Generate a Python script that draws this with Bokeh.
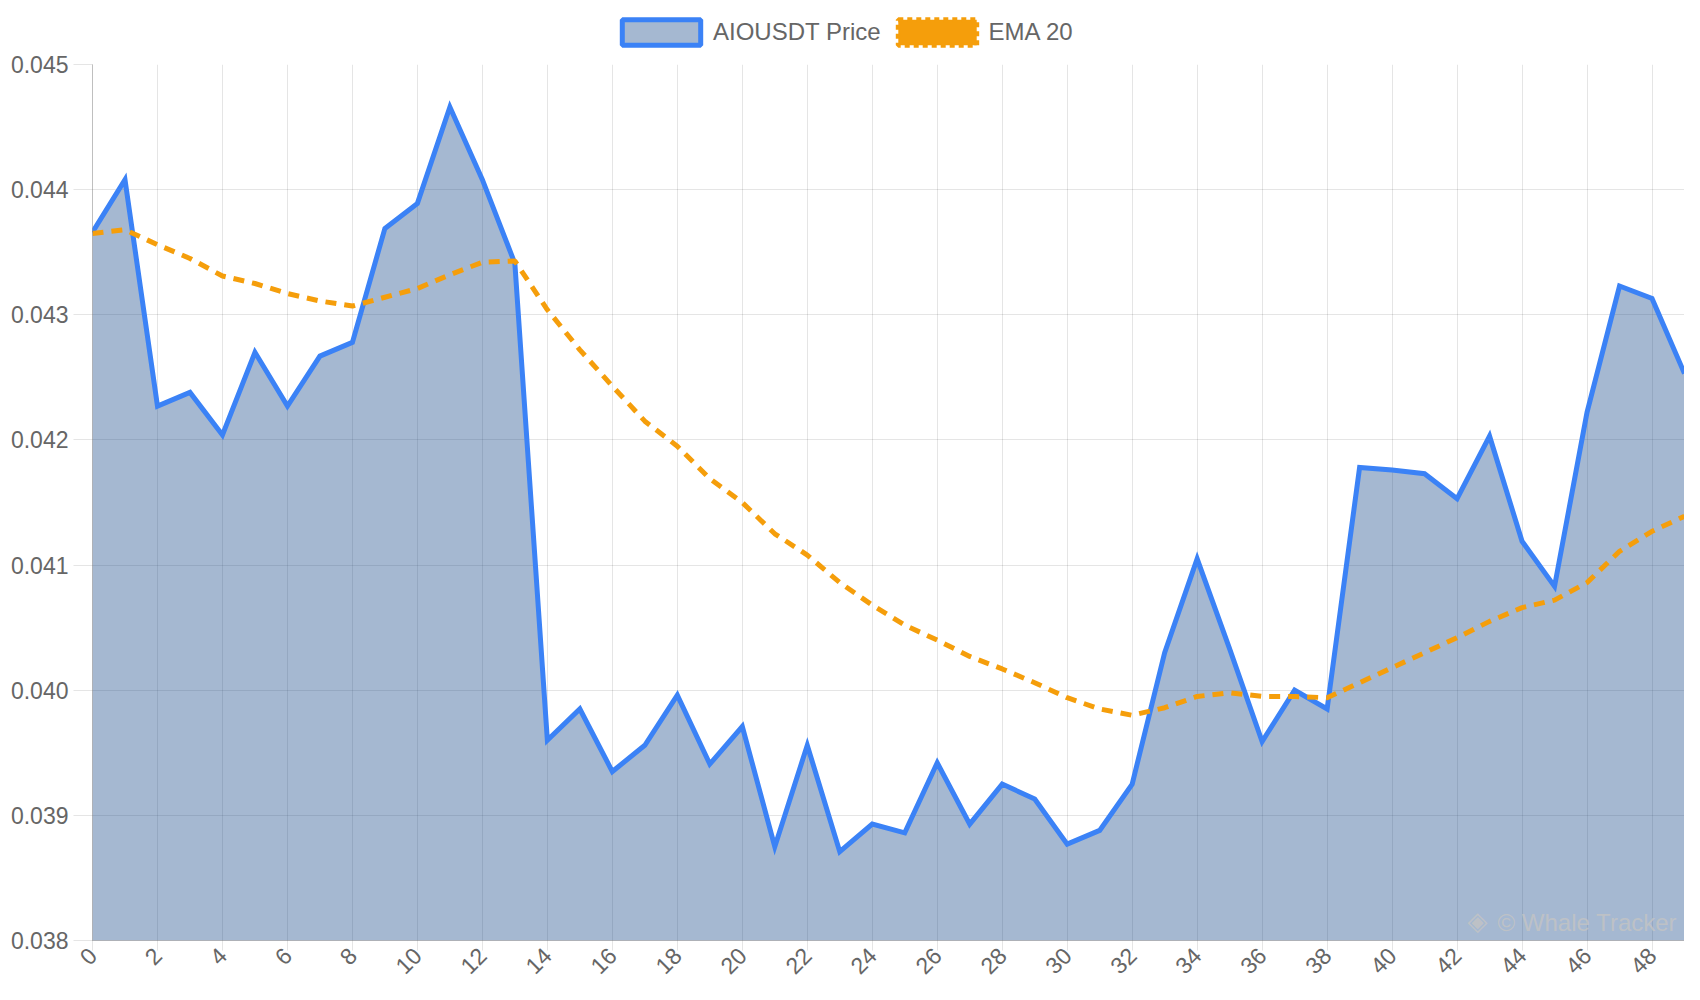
from math import pi

from bokeh.plotting import figure
from bokeh.layouts import column
from bokeh.models import FixedTicker, NumeralTickFormatter, Legend, LegendItem, Label
from bokeh.embed import file_html
from bokeh.resources import INLINE

# values
idx = list(range(50))
price = [0.04366, 0.04408, 0.04227, 0.04238, 0.04204, 0.04270, 0.04227, 0.04267, 0.04278, 0.04369,
         0.04389, 0.04466, 0.04408, 0.04341, 0.03960, 0.03985, 0.03935, 0.03956, 0.03996, 0.03941,
         0.03971, 0.03875, 0.03956, 0.03871, 0.03893, 0.03886, 0.03942, 0.03893, 0.03925, 0.03913,
         0.03877, 0.03888, 0.03925, 0.04030, 0.04105, 0.04033, 0.03959, 0.04000, 0.03985, 0.04178,
         0.04176, 0.04173, 0.04153, 0.04203, 0.04119, 0.04083, 0.04222, 0.04323, 0.04313, 0.04253]
ema20 = [0.04365, 0.04368, 0.04356, 0.04345, 0.04331, 0.04325, 0.04317, 0.04311, 0.04307, 0.04314,
         0.04321, 0.04332, 0.04342, 0.04343, 0.04304, 0.04272, 0.04243, 0.04215, 0.04195, 0.04169,
         0.04150, 0.04125, 0.04108, 0.04086, 0.04068, 0.04052, 0.04040, 0.04027, 0.04017, 0.04006,
         0.03994, 0.03985, 0.03980, 0.03986, 0.03995, 0.03998, 0.03995, 0.03995, 0.03994, 0.04006,
         0.04018, 0.04030, 0.04042, 0.04055, 0.04066, 0.04072, 0.04086, 0.04111, 0.04127, 0.04139]
x_ticks = list(range(0, 49, 2))
y_ticks = [0.038, 0.039, 0.040, 0.041, 0.042, 0.043, 0.044, 0.045]

BLUE = "#3b82f6"
FILL = "#1f4e8c"
ORANGE = "#f59e0b"
GREY = "#666666"
FONT = "Liberation Sans"
NAN = float("nan")

# strip on top that only holds the legend
top = figure(width=1684, height=51, min_border=0, x_axis_type=None, y_axis_type=None,
             output_backend="svg", toolbar_location=None)
top.outline_line_color = None
top.grid.visible = False

# legend proxies (nan -> nothing drawn in the strip itself)
leg_price = top.quad(left=[NAN], right=[NAN], top=[NAN], bottom=[NAN], fill_color=FILL,
                     fill_alpha=0.4, line_color=BLUE, line_width=5)
leg_ema = top.quad(left=[NAN], right=[NAN], top=[NAN], bottom=[NAN], fill_color=ORANGE,
                   line_color=ORANGE, line_width=5, line_dash="5 4")
legend = Legend(items=[LegendItem(label="AIOUSDT Price", renderers=[leg_price]),
                       LegendItem(label="EMA 20", renderers=[leg_ema])],
                orientation="horizontal", location=(520, 3),
                glyph_width=98, glyph_height=32, label_standoff=3, spacing=7,
                padding=0, margin=0, border_line_color=None, background_fill_alpha=0,
                label_text_font=FONT, label_text_font_size="24px", label_text_color=GREY)
top.add_layout(legend, "center")

# main chart
p = figure(width=1684, height=933,
           min_border_left=92, min_border_top=13, min_border_right=0, min_border_bottom=0,
           x_range=(0, 49), y_range=(y_ticks[0], y_ticks[-1]),
           output_backend="svg", toolbar_location=None)
p.outline_line_color = None

# price area + line
p.varea(x=idx, y1=y_ticks[0], y2=price, fill_color=FILL, fill_alpha=0.4)
p.line(idx, price, line_color=BLUE, line_width=5, line_join="miter")
# EMA
p.line(idx, ema20, line_color=ORANGE, line_width=5, line_dash="11 8")

p.xaxis.ticker = FixedTicker(ticks=x_ticks)
p.yaxis.ticker = FixedTicker(ticks=y_ticks)
p.yaxis.formatter = NumeralTickFormatter(format="0.000")
p.xaxis.major_label_orientation = pi / 4

for ax in (p.xaxis, p.yaxis):
    ax.axis_line_color = "black"
    ax.axis_line_alpha = 0.25
    ax.major_tick_line_color = "black"
    ax.major_tick_line_alpha = 0.1
    ax.minor_tick_line_color = None
    ax.major_tick_in = 0
    ax.major_label_text_font = FONT
    ax.major_label_text_font_size = "23px"
    ax.major_label_text_color = GREY
p.yaxis.major_tick_out = 19
p.yaxis.major_label_standoff = 5
p.xaxis.major_tick_out = 10
p.xaxis.major_label_standoff = 1

p.grid.grid_line_color = "black"
p.grid.grid_line_alpha = 0.1

# watermark
p.add_layout(Label(x=1375, y=5, x_units="screen", y_units="screen", text="◈",
                   text_font="DejaVu Sans", text_font_size="26px", text_color="#c4c4c4",
                   text_alpha=0.8))
p.add_layout(Label(x=1405, y=5, x_units="screen", y_units="screen", text="© Whale Tracker",
                   text_font=FONT, text_font_size="24px", text_color="#c4c4c4",
                   text_alpha=0.8))

open("out.html", "w").write(file_html(column(top, p, spacing=0), INLINE))
